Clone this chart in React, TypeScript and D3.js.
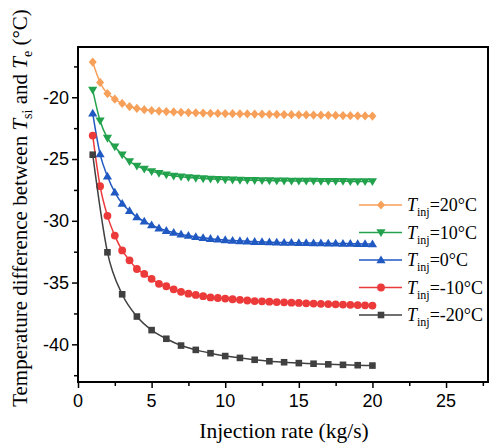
import React, { useEffect, useRef } from 'react';
import * as d3 from 'd3';

// injection rates (kg/s)
const ratesHalf = [1, 1.5, 2, 2.5, 3, 3.5, 4, 4.5, 5, 5.5, 6, 6.5, 7, 7.5, 8, 8.5, 9, 9.5, 10, 10.5,
  11, 11.5, 12, 12.5, 13, 13.5, 14, 14.5, 15, 15.5, 16, 16.5, 17, 17.5, 18, 18.5, 19, 19.5, 20];
const ratesInt = [1, 2, 3, 4, 5, 6, 7, 8, 9, 10, 11, 12, 13, 14, 15, 16, 17, 18, 19, 20];

const tinj20 = [-17.15, -18.8, -19.7, -20.15, -20.5, -20.75, -20.9, -21.0, -21.07, -21.12, -21.16, -21.19,
  -21.22, -21.24, -21.26, -21.28, -21.3, -21.31, -21.32, -21.33, -21.34, -21.35, -21.36, -21.37, -21.38,
  -21.39, -21.4, -21.41, -21.42, -21.43, -21.44, -21.45, -21.46, -21.47, -21.48, -21.49, -21.5, -21.51, -21.52];
const tinj10 = [-19.4, -21.9, -23.3, -24.0, -24.65, -25.2, -25.55, -25.8, -26.0, -26.15, -26.27, -26.36,
  -26.43, -26.49, -26.54, -26.58, -26.61, -26.64, -26.66, -26.68, -26.7, -26.71, -26.72, -26.73, -26.74,
  -26.75, -26.76, -26.77, -26.77, -26.78, -26.78, -26.79, -26.79, -26.8, -26.8, -26.81, -26.81, -26.82, -26.82];
const tinj0 = [-21.3, -24.6, -26.4, -27.7, -28.6, -29.2, -29.7, -30.05, -30.35, -30.6, -30.8, -30.95,
  -31.1, -31.2, -31.3, -31.38, -31.45, -31.5, -31.55, -31.6, -31.63, -31.66, -31.69, -31.71, -31.73,
  -31.75, -31.76, -31.77, -31.78, -31.79, -31.8, -31.81, -31.82, -31.83, -31.84, -31.85, -31.86, -31.87, -31.88];
const tinjM10 = [-23.1, -27.2, -29.6, -31.2, -32.4, -33.2, -33.9, -34.3, -34.7, -35.1, -35.3, -35.55,
  -35.75, -35.9, -36.0, -36.1, -36.2, -36.25, -36.3, -36.35, -36.4, -36.45, -36.5, -36.52, -36.55,
  -36.58, -36.6, -36.63, -36.65, -36.68, -36.7, -36.72, -36.74, -36.76, -36.78, -36.8, -36.82, -36.84, -36.86];
const tinjM20 = [-24.65, -32.55, -35.95, -37.75, -38.85, -39.55, -40.1, -40.45, -40.72, -40.95, -41.1,
  -41.25, -41.37, -41.45, -41.52, -41.57, -41.62, -41.66, -41.69, -41.72];

const xTicks = [0, 5, 10, 15, 20, 25];
const yTicks = [-20, -25, -30, -35, -40];

const seriesList = [
  { label: '=20°C', x: ratesHalf, y: tinj20, color: '#F7A05A', symbol: 'diamond' },
  { label: '=10°C', x: ratesHalf, y: tinj10, color: '#22A24C', symbol: 'down' },
  { label: '=0°C', x: ratesHalf, y: tinj0, color: '#2159C2', symbol: 'up' },
  { label: '=-10°C', x: ratesHalf, y: tinjM10, color: '#EC3A3A', symbol: 'circle' },
  { label: '=-20°C', x: ratesInt, y: tinjM20, color: '#404040', symbol: 'square' },
];

const W = 489, H = 448;
const left = 78, right = 488, top = 47, bottom = 382;

function markerPath(sym: string) {
  switch (sym) {
    case 'diamond': return 'M0,-4.6L4,0L0,4.6L-4,0Z';
    case 'down': return 'M-4.6,-3.2L4.6,-3.2L0,4.6Z';
    case 'up': return 'M-4.6,3.2L4.6,3.2L0,-4.6Z';
    case 'square': return 'M-3.3,-3.3H3.3V3.3H-3.3Z';
    default: return d3.symbol(d3.symbolCircle, 48)() as string;
  }
}

const App = () => {
  const svgRef = useRef<SVGSVGElement>(null);

  useEffect(() => {
    const svg = d3.select(svgRef.current);
    svg.selectAll('*').remove();

    const x = d3.scaleLinear().domain([0, 27.85]).range([left, right]);
    const y = d3.scaleLinear().domain([-43.05, -15.93]).range([bottom, top]);

    const sans = 'Liberation Sans, Arial, sans-serif';
    const serif = 'Liberation Serif, Times New Roman, serif';

    // lines + markers
    seriesList.forEach(s => {
      const pts = s.x.map((v, i) => [v, s.y[i]] as [number, number]);
      const line = d3.line<[number, number]>().x(d => x(d[0])).y(d => y(d[1])).curve(d3.curveMonotoneX);
      svg.append('path').attr('d', line(pts)).attr('fill', 'none').attr('stroke', s.color).attr('stroke-width', 1.5);
      svg.append('g').selectAll('path').data(pts).enter().append('path')
        .attr('d', markerPath(s.symbol))
        .attr('transform', d => `translate(${x(d[0])},${y(d[1])})`)
        .attr('fill', s.color);
    });

    // frame
    svg.append('rect').attr('x', left).attr('y', top).attr('width', right - left).attr('height', bottom - top)
      .attr('fill', 'none').attr('stroke', '#000').attr('stroke-width', 2);

    // axes
    const xAxis = svg.append('g').attr('transform', `translate(0,${bottom})`);
    xAxis.call(d3.axisBottom(x).tickValues(d3.range(0, 27.6, 2.5)).tickSize(4).tickFormat(() => ''));
    xAxis.call(g => g.select('.domain').remove());
    xAxis.selectAll('line').attr('stroke-width', 1.5).attr('y2', (d: any) => (d % 5 === 0 ? 6 : 4));
    xTicks.forEach(t => {
      svg.append('text').attr('x', x(t)).attr('y', bottom + 25).attr('text-anchor', 'middle')
        .attr('font-family', sans).attr('font-size', 18).text(t);
    });

    const yAxis = svg.append('g').attr('transform', `translate(${left},0)`);
    yAxis.call(d3.axisLeft(y).tickValues(d3.range(-42.5, -16, 2.5)).tickSize(4).tickFormat(() => ''));
    yAxis.call(g => g.select('.domain').remove());
    yAxis.selectAll('line').attr('stroke-width', 1.5).attr('x2', (d: any) => (d % 5 === 0 ? -6 : -4));
    yTicks.forEach(t => {
      svg.append('text').attr('x', left - 9).attr('y', y(t)).attr('dy', '0.35em').attr('text-anchor', 'end')
        .attr('font-family', sans).attr('font-size', 18).text(t);
    });

    // axis titles
    svg.append('text').attr('x', 284).attr('y', 438).attr('text-anchor', 'middle')
      .attr('font-family', serif).attr('font-size', 21.5).text('Injection rate (kg/s)');

    const yt = svg.append('text').attr('transform', 'translate(27,208) rotate(-90)').attr('text-anchor', 'middle')
      .attr('font-family', serif).attr('font-size', 21);
    yt.append('tspan').text('Temperature difference between ');
    yt.append('tspan').attr('font-style', 'italic').text('T');
    yt.append('tspan').attr('font-size', 14).attr('dy', 5).text('si');
    yt.append('tspan').attr('dy', -5).text(' and ');
    yt.append('tspan').attr('font-style', 'italic').text('T');
    yt.append('tspan').attr('font-size', 14).attr('dy', 5).text('e');
    yt.append('tspan').attr('dy', -5).text(' (°C)');

    // legend
    const lg = svg.append('g').attr('transform', 'translate(359,205)');
    seriesList.forEach((s, i) => {
      const row = lg.append('g').attr('transform', `translate(0,${i * 27.5})`);
      row.append('line').attr('x1', 0).attr('x2', 43).attr('stroke', s.color).attr('stroke-width', 1.5);
      row.append('path').attr('d', markerPath(s.symbol)).attr('transform', 'translate(22,0)').attr('fill', s.color);
      const t = row.append('text').attr('x', 48).attr('y', 6).attr('font-family', serif).attr('font-size', 18);
      t.append('tspan').attr('font-style', 'italic').text('T');
      t.append('tspan').attr('font-size', 12).attr('dy', 5).text('inj');
      t.append('tspan').attr('dy', -5).text(s.label);
    });
  }, []);

  return (
    <svg ref={svgRef} width={W} height={H}
      style={{ position: 'absolute', left: 0, top: 0, background: '#fff' }} />
  );
};

export default App;
